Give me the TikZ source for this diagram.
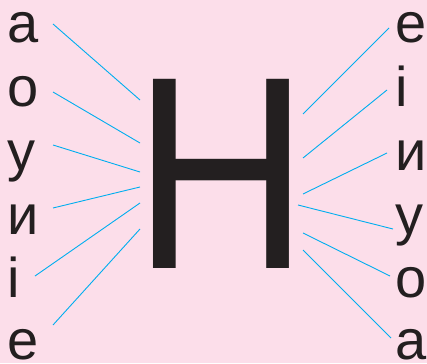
\documentclass[tikz,border=0pt]{standalone}
\usepackage{fontspec}
\setmainfont{Liberation Sans}
\usepackage{tikz}
\usetikzlibrary{positioning}
\definecolor{bgpink}{RGB}{252,222,234}
\definecolor{linkblue}{RGB}{0,174,239}
\definecolor{letterdark}{RGB}{35,31,32}
\tikzset{
  letter/.style={
    inner sep=0pt, outer sep=0pt, text=letterdark,
    font=\fontsize{56}{60}\selectfont
  },
  bigletter/.style={
    inner sep=0pt, outer sep=0pt, text=letterdark,
    font=\fontsize{275}{300}\selectfont, xscale=0.885
  },
  link/.style={draw=linkblue, line width=0.9pt}
}

\begin{document}
\begin{tikzpicture}[x=1pt, y=-1pt]

% Background
\fill[bgpink] (0,0) rectangle (427,363);
\useasboundingbox (0,0) rectangle (427,363);

% Centre letter
\node[bigletter, anchor=base] (en) at (221.5,268) {Н};

% Left column
\node[letter, anchor=base west] (la) at (8,43) {а};
\node[letter, anchor=base west] (lb) at (8,107) {о};
\node[letter, anchor=base west] (lc) at (8,170) {у};
\node[letter, anchor=base west] (ld) at (8,234) {и};
\node[letter, anchor=base west] (le) at (8,297) {і};
\node[letter, anchor=base west, text depth=0pt] (lf) at (8,359.5) {е};

% Right column
\node[letter, anchor=base west] (ra) at (395,43) {е};
\node[letter, anchor=base west] (rb) at (395,107) {і};
\node[letter, anchor=base west] (rc) at (395,170) {и};
\node[letter, anchor=base west] (rd) at (395,234) {у};
\node[letter, anchor=base west] (re) at (395,297) {о};
\node[letter, anchor=base west, text depth=0pt] (rf) at (395,359.5) {а};

% Line ends, left side
\coordinate (la1) at (53,24);  \coordinate (la2) at (140,100);
\coordinate (lb1) at (53,92);  \coordinate (lb2) at (140,143);
\coordinate (lc1) at (53,145); \coordinate (lc2) at (140,172);
\coordinate (ld1) at (53,208); \coordinate (ld2) at (140,187);
\coordinate (le1) at (35,276); \coordinate (le2) at (140,203);
\coordinate (lf1) at (53,325); \coordinate (lf2) at (140,229);

% Line ends, right side
\coordinate (ra1) at (389,28);  \coordinate (ra2) at (303,114);
\coordinate (rb1) at (387,90);  \coordinate (rb2) at (303,158);
\coordinate (rc1) at (387,153); \coordinate (rc2) at (303,194);
\coordinate (rd1) at (393,229); \coordinate (rd2) at (298,205);
\coordinate (re1) at (390,276); \coordinate (re2) at (303,233);
\coordinate (rf1) at (391,338); \coordinate (rf2) at (303,250);

% Links
\draw[link] (la1) -- (la2);
\draw[link] (lb1) -- (lb2);
\draw[link] (lc1) -- (lc2);
\draw[link] (ld1) -- (ld2);
\draw[link] (le1) -- (le2);
\draw[link] (lf1) -- (lf2);
\draw[link] (ra1) -- (ra2);
\draw[link] (rb1) -- (rb2);
\draw[link] (rc1) -- (rc2);
\draw[link] (rd1) -- (rd2);
\draw[link] (re1) -- (re2);
\draw[link] (rf1) -- (rf2);

\end{tikzpicture}
\end{document}
